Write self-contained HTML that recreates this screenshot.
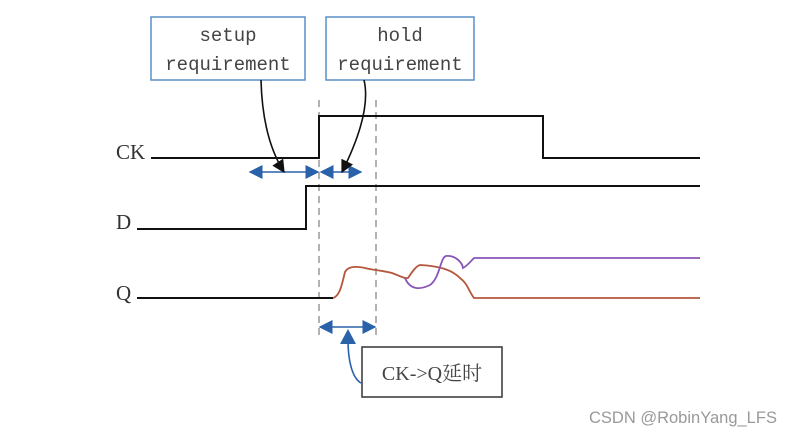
<!DOCTYPE html>
<html><head><style>body{margin:0;background:#fff}svg{display:block}</style></head><body>
<svg width="802" height="437" xmlns="http://www.w3.org/2000/svg" font-family="Liberation Serif, Noto Serif CJK SC, serif">
<defs>
<marker id="ab" viewBox="0 0 10 10" refX="9" refY="5" markerUnits="userSpaceOnUse" markerWidth="14" markerHeight="14" orient="auto-start-reverse"><path d="M0,0L10,5L0,10z" fill="#2a62aa"/></marker>
<marker id="ak" viewBox="0 0 10 10" refX="9" refY="5" markerUnits="userSpaceOnUse" markerWidth="13" markerHeight="13" orient="auto"><path d="M0,0L10,5L0,10z" fill="#111"/></marker>
</defs>
<rect x="151" y="17" width="154" height="63" fill="#fff" stroke="#5a8fc8" stroke-width="1.5"/>
<rect x="326" y="17" width="148" height="63" fill="#fff" stroke="#5a8fc8" stroke-width="1.5"/>
<g font-family="Liberation Mono, monospace" font-size="19" fill="#444" text-anchor="middle">
<text x="228" y="41">setup</text><text x="228" y="70">requirement</text>
<text x="400" y="41">hold</text><text x="400" y="70">requirement</text>
</g>
<g stroke="#888" stroke-width="1.3" stroke-dasharray="7,5"><line x1="319" y1="100" x2="319" y2="335"/><line x1="376" y1="100" x2="376" y2="335"/></g>
<g fill="none" stroke="#111" stroke-width="2">
<path d="M151,158H319V116H543V158H700"/>
<path d="M137,229H306V186H700"/>
<path d="M137,298H333"/>
</g>
<g font-size="21" fill="#333"><text x="116" y="159">CK</text><text x="116" y="229">D</text><text x="116" y="300">Q</text></g>
<path d="M333,298C340,296 342,284 345,272C348,266 356,266 365,268C372,270 380,270 392,273C400,276 405,279 408,278C412,272 416,266 420,265C440,266 452,270 460,278C468,284 468,290 474,298H700" fill="none" stroke="#b5573c" stroke-width="1.8"/>
<path d="M405,278C410,290 420,290 430,285C440,278 440,258 446,256C455,255 462,262 463,268C467,266 470,262 474,258H700" fill="none" stroke="#8a55b8" stroke-width="1.8"/>
<g stroke="#2a62aa" stroke-width="1.6" fill="none">
<line x1="250" y1="172" x2="318" y2="172" marker-start="url(#ab)" marker-end="url(#ab)"/>
<line x1="321" y1="172" x2="361" y2="172" marker-start="url(#ab)" marker-end="url(#ab)"/>
<line x1="320" y1="327" x2="375" y2="327" marker-start="url(#ab)" marker-end="url(#ab)"/>
<path d="M361,383C352,378 348,360 348,340"/>
</g>
<path d="M348,329 l-8,15 l16,0z" fill="#2a62aa"/>
<g stroke="#111" stroke-width="1.6" fill="none">
<path d="M261,80C262,120 270,150 284,172" marker-end="url(#ak)"/>
<path d="M364,80C370,105 358,140 342,172" marker-end="url(#ak)"/>
</g>
<rect x="362" y="347" width="140" height="50" fill="#fff" stroke="#333" stroke-width="1.5"/>
<text x="432" y="380" font-size="20" fill="#444" text-anchor="middle">CK-&gt;Q延时</text>
<text x="589" y="423" font-family="Liberation Sans, sans-serif" font-size="16.5" fill="#999">CSDN @RobinYang_LFS</text>
</svg>
</body></html>
